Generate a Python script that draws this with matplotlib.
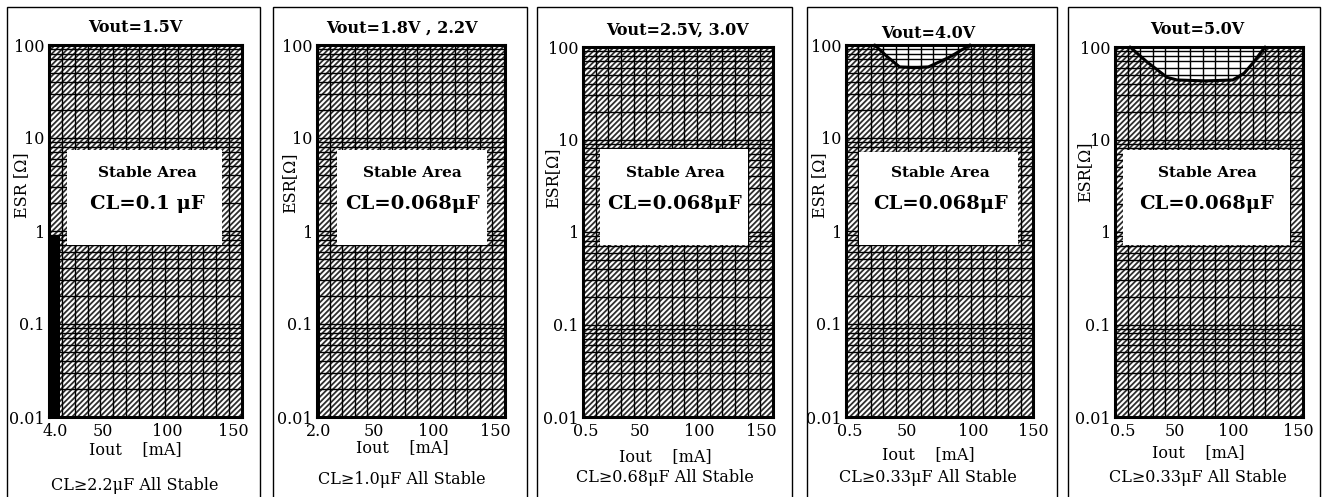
import numpy as np
import matplotlib
matplotlib.use('Agg')
import matplotlib.pyplot as plt
from matplotlib.patches import Rectangle
from matplotlib.ticker import MultipleLocator, LogLocator, NullFormatter, FixedLocator

plt.rcParams['font.family'] = 'DejaVu Serif'
plt.rcParams['hatch.linewidth'] = 1.3

W, H = 1326, 497

titles = ['Vout=1.5V', 'Vout=1.8V , 2.2V', 'Vout=2.5V, 3.0V', 'Vout=4.0V', 'Vout=5.0V']
cl_text = ['CL=0.1 μF', 'CL=0.068μF', 'CL=0.068μF', 'CL=0.068μF', 'CL=0.068μF']
notes = ['CL≥2.2μF All Stable', 'CL≥1.0μF All Stable', 'CL≥0.68μF All Stable',
         'CL≥0.33μF All Stable', 'CL≥0.33μF All Stable']
ylabels = ['ESR [Ω]', 'ESR[Ω]', 'ESR[Ω]', 'ESR [Ω]', 'ESR[Ω]']
xtick_labels = [['4.0', '50', '100', '150'],
                ['2.0', '50', '100', '150'],
                ['0.5', '50', '100', '150'],
                ['0.5', '50', '100', '150'],
                ['0.5', '50', '100', '150']]
xtick_pos = [[5, 42, 92, 143], [1, 45, 93, 142], [2, 45, 92, 141],
             [3, 49, 102, 150], [6, 48, 94, 146]]
ytick_vals = [0.01, 0.1, 1, 10, 100]
ytick_labels = ['0.01', '0.1', '1', '10', '100']

# stable area box (Iout mA, ESR ohm)
box_iout = [(14, 134.5), (16, 136), (13.4, 130), (10.4, 138), (6.4, 139.6)]
box_esr = [(0.71, 7.4), (0.71, 7.4), (0.72, 7.9), (0.71, 7.0), (0.72, 7.7)]

# black unstable strip at low current (panels 1, 2)
bar_iout = [8.5, 2.0]
bar_esr = [0.9, 0.35]

# upper boundary curves (panels 4, 5)
curve4_iout = [23, 33, 43, 55, 66, 83, 99.5]
curve4_esr = [100, 75, 58, 57, 58, 74, 100]
curve5_iout = [12, 25.5, 41.5, 49.5, 72, 94, 103, 110, 119.7]
curve5_esr = [100, 69, 47, 44, 43, 44, 52, 67, 100]
curves = {3: (curve4_iout, curve4_esr), 4: (curve5_iout, curve5_esr)}

# layout in pixels
axes_px = [(49, 242, 45, 417), (317, 505, 45, 417), (583, 773, 47, 417),
           (846, 1033, 45, 417), (1115, 1303, 47, 417)]
frames_px = [(7, 260), (273, 527), (537, 792), (807, 1057), (1068, 1320)]
title_px = [(135, 28), (402, 28), (677, 30), (928, 33), (1197, 30)]
stable_x = [147, 412, 675, 940, 1207]
ylab_px = [(22, 185), (290, 183), (553, 178), (820, 185), (1085, 172)]
xlab_px = [(135, 450), (402, 448), (665, 457), (928, 455), (1198, 453)]
note_px = [(135, 485), (402, 480), (665, 477), (928, 477), (1198, 477)]


def fx(x):
    return x / W


def fy(y):
    return 1 - y / H


fig = plt.figure(figsize=(W / 100, H / 100), dpi=100)

for i in range(5):
    fl, fr = frames_px[i]
    fig.patches.append(Rectangle((fx(fl), -0.05), fx(fr) - fx(fl), fy(7) + 0.05,
                                 transform=fig.transFigure, fill=False,
                                 edgecolor='black', linewidth=1.0))

    l, r, t, b = axes_px[i]
    ax = fig.add_axes([fx(l), fy(b), fx(r) - fx(l), fy(t) - fy(b)])
    ax.set_yscale('log')
    ax.set_xlim(0, 150)
    ax.set_ylim(0.01, 100)

    # hatched background
    ax.add_patch(Rectangle((0, 0), 1, 1, transform=ax.transAxes, facecolor='white',
                           edgecolor='#2e2e2e', hatch='//////', linewidth=0, zorder=0.1))

    if i in curves:
        cx, cy = curves[i]
        ax.fill_between(cx, cy, 100, color='white', linewidth=0, zorder=0.3)
        ax.plot(cx, cy, color='black', linewidth=2.2, zorder=3, clip_on=False,
                solid_capstyle='round')

    ax.set_axisbelow(True)
    ax.xaxis.set_major_locator(FixedLocator(xtick_pos[i]))
    ax.set_xticklabels(xtick_labels[i])
    ax.xaxis.set_minor_locator(MultipleLocator(10))
    ax.yaxis.set_major_locator(FixedLocator(ytick_vals))
    ax.set_yticklabels(ytick_labels)
    ax.yaxis.set_minor_locator(LogLocator(base=10, subs=np.arange(2, 10)))
    ax.yaxis.set_minor_formatter(NullFormatter())
    ax.grid(which='minor', axis='x', color='black', linewidth=1.0)
    ax.grid(which='both', axis='y', color='black', linewidth=1.0)
    ax.tick_params(which='both', length=0, labelsize=11.5)
    ax.tick_params(axis='y', pad=3)
    ax.tick_params(axis='x', pad=4)

    x0, x1 = box_iout[i]
    y0, y1 = box_esr[i]
    ax.add_patch(Rectangle((x0, y0), x1 - x0, y1 - y0, facecolor='white',
                           edgecolor='none', zorder=1))

    if i < 2:
        ax.fill_between([0, bar_iout[i]], 0.01, bar_esr[i], color='black',
                        linewidth=0, zorder=2)

    for s in ax.spines.values():
        s.set_linewidth(2.2)

    fig.text(fx(title_px[i][0]), fy(title_px[i][1]), titles[i], ha='center',
             va='center', fontsize=11.5, fontweight='bold')
    fig.text(fx(stable_x[i]), fy(173), 'Stable Area', ha='center', va='center',
             fontsize=11, fontweight='bold')
    fig.text(fx(stable_x[i]), fy(204), cl_text[i], ha='center', va='center',
             fontsize=14, fontweight='bold')
    fig.text(fx(ylab_px[i][0]), fy(ylab_px[i][1]), ylabels[i], ha='center',
             va='center', rotation=90, fontsize=11.5)
    fig.text(fx(xlab_px[i][0]), fy(xlab_px[i][1]), 'Iout    [mA]', ha='center',
             va='center', fontsize=11.5)
    fig.text(fx(note_px[i][0]), fy(note_px[i][1]), notes[i], ha='center',
             va='center', fontsize=11.5)

fig.savefig('out.png', dpi=100)
